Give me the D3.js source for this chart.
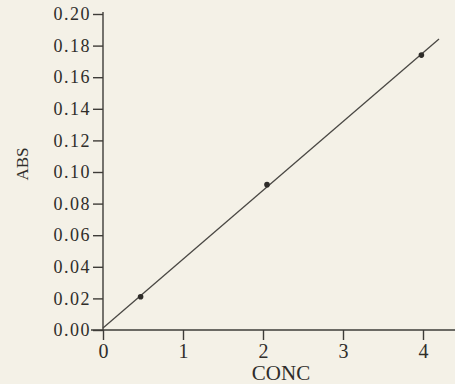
<!DOCTYPE html>
<html>
<head>
<meta charset="utf-8">
<script src="https://cdn.jsdelivr.net/npm/d3@7"></script>
<style>
  html, body { margin: 0; padding: 0; background: #f4f1e7; }
  svg { display: block; }
</style>
</head>
<body>
<svg width="455" height="384"></svg>
<script>
const conc = [0.47, 2.05, 3.98];
const abs = [0.021, 0.092, 0.174];
const xTicks = [0, 1, 2, 3, 4];
const yTicks = [0, 0.02, 0.04, 0.06, 0.08, 0.10, 0.12, 0.14, 0.16, 0.18, 0.20];
const lineEndX = 4.2;

const svg = d3.select("svg"),
    width = +svg.attr("width"),
    height = +svg.attr("height");

const x = d3.scaleLinear().domain([0, 4.4]).range([103, 455]);
const y = d3.scaleLinear().domain([0, 0.2]).range([330, 14]);

// least squares fit through the three standards
const mx = d3.mean(conc), my = d3.mean(abs);
const slope = d3.sum(conc, (c, i) => (c - mx) * (abs[i] - my)) / d3.sum(conc, c => (c - mx) ** 2);
const intercept = my - slope * mx;

const ink = "#3e3c38";
const serif = "Liberation Serif, serif";

// x axis
const xAxis = svg.append("g")
    .attr("transform", `translate(0,${y(0)})`)
    .call(d3.axisBottom(x).tickValues(xTicks).tickSize(10).tickPadding(4).tickFormat(d3.format("d")));
xAxis.select(".domain").attr("d", `M${x(0) - 12},0H${width}`);
xAxis.selectAll("line").attr("stroke", ink).attr("stroke-width", 1.4);
xAxis.select(".domain").attr("stroke", ink).attr("stroke-width", 1.4);
xAxis.selectAll("text")
    .style("font-size", "20px").style("font-family", serif).style("fill", "#2f2d2a");

// y axis
const yAxis = svg.append("g")
    .attr("transform", `translate(${x(0)},0)`)
    .call(d3.axisLeft(y).tickValues(yTicks).tickSize(10).tickPadding(2).tickFormat(d3.format(".2f")));
yAxis.select(".domain").attr("d", `M0,${y(0.2) - 2}V${y(0)}`);
yAxis.selectAll("line").attr("stroke", ink).attr("stroke-width", 1.4);
yAxis.select(".domain").attr("stroke", ink).attr("stroke-width", 1.4);
yAxis.selectAll("text")
    .style("font-size", "18px").style("font-family", serif).style("fill", "#2f2d2a")
    .style("letter-spacing", "1.5px");

// fitted line
svg.append("path")
    .datum([0, lineEndX])
    .attr("fill", "none")
    .attr("stroke", "#4a4844")
    .attr("stroke-width", 1.3)
    .attr("d", d3.line().x(d => x(d)).y(d => y(intercept + slope * d)));

// measured points
svg.append("g").selectAll("circle")
    .data(conc)
    .join("circle")
    .attr("cx", d => x(d))
    .attr("cy", (d, i) => y(abs[i]))
    .attr("r", 2.8)
    .attr("fill", "#2e2c29");

svg.append("text")
    .attr("x", 281)
    .attr("y", 380)
    .attr("text-anchor", "middle")
    .style("font-family", serif)
    .style("font-size", "21px")
    .style("fill", "#2f2d2a")
    .text("CONC");

svg.append("text")
    .attr("transform", "translate(28,164) rotate(-90)")
    .attr("text-anchor", "middle")
    .style("font-family", serif)
    .style("font-size", "17px")
    .style("fill", "#2f2d2a")
    .text("ABS");
</script>
</body>
</html>
